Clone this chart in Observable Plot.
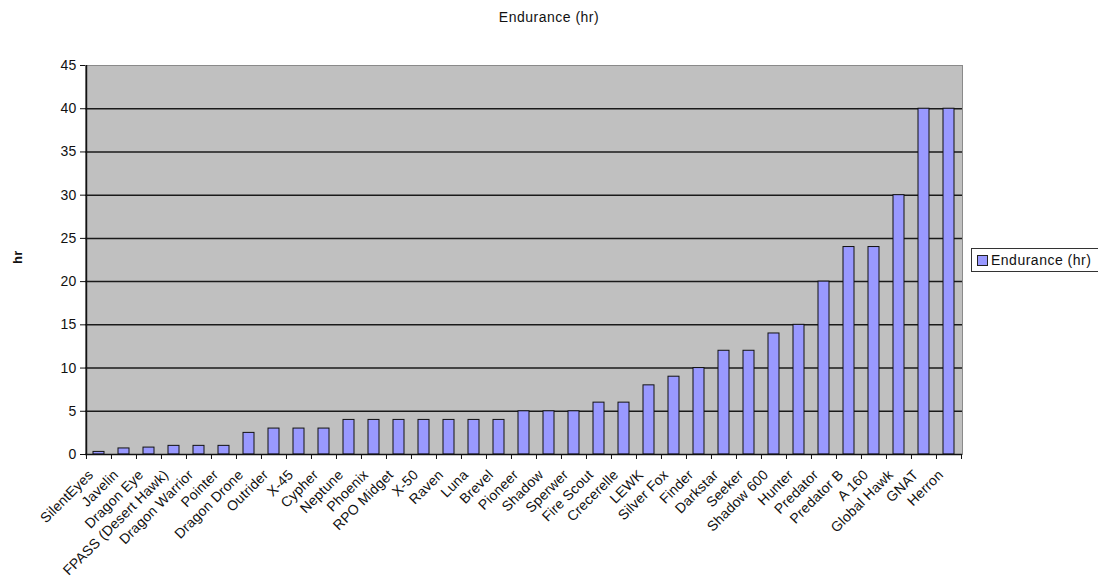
<!DOCTYPE html>
<html>
<head>
<meta charset="utf-8">
<script src="https://cdn.jsdelivr.net/npm/d3@7"></script>
<script src="https://cdn.jsdelivr.net/npm/@observablehq/plot@0.6"></script>
<style>
  body { margin: 0; background: #fff; font-family: "Liberation Sans", Arial, sans-serif; }
  #wrap { position: relative; width: 1098px; height: 578px; overflow: hidden; }
  #title { position: absolute; left: 0; width: 1098px; top: 9px; text-align: center; font-size: 14px; letter-spacing: 0.5px; color: #111; }
  #legend { position: absolute; left: 971px; top: 248px; width: 140px; height: 24px; border: 1px solid #333; box-sizing: border-box; font-size: 14px; letter-spacing: 0.5px; color: #111; }
  #legend .sw { position: absolute; left: 5px; top: 6px; width: 9px; height: 9px; background: #9999ff; border: 1px solid #222; }
  #legend .lt { position: absolute; left: 19px; top: 3px; white-space: nowrap; }
  svg text { letter-spacing: 0.2px; }
</style>
</head>
<body>
<div id="wrap">
  <div id="title">Endurance (hr)</div>
  <div id="chart"></div>
  <div id="legend"><div class="sw"></div><div class="lt">Endurance (hr)</div></div>
</div>
<script>
const names = ["SilentEyes","Javelin","Dragon Eye","FPASS (Desert Hawk)","Dragon Warrior","Pointer","Dragon Drone","Outrider","X-45","Cypher","Neptune","Phoenix","RPO Midget","X-50","Raven","Luna","Brevel","Pioneer","Shadow","Sperwer","Fire Scout","Crecerelle","LEWK","Silver Fox","Finder","Darkstar","Seeker","Shadow 600","Hunter","Predator","Predator B","A 160","Global Hawk","GNAT","Herron"];
const endurance = [0.3,0.7,0.8,1,1,1,2.5,3,3,3,4,4,4,4,4,4,4,5,5,5,6,6,8,9,10,12,12,14,15,20,24,24,30,40,40];
const yTicks = [0,5,10,15,20,25,30,35,40,45];
const gridValues = [5,10,15,20,25,30,35,40];

const data = names.map((n, i) => ({name: n, value: endurance[i]}));

const W = 1098, H = 578, mL = 85, mR = 136, mT = 65, mB = 124;
const step = (W - mL - mR) / names.length;

const chart = Plot.plot({
  width: W,
  height: H,
  marginLeft: mL,
  marginRight: mR,
  marginTop: mT,
  marginBottom: mB,
  style: {fontFamily: "Liberation Sans, Arial, sans-serif", fontSize: "14px", color: "#111", background: "transparent"},
  x: {domain: names, paddingInner: 0.56, paddingOuter: 0.28, label: null},
  y: {domain: [0, 45], label: null},
  marks: [
    Plot.frame({fill: "#c0c0c0", stroke: "#8a8a8a"}),
    Plot.ruleY(gridValues, {stroke: "#1a1a1a", strokeWidth: 1.5}),
    Plot.barY(data, {x: "name", y: "value", fill: "#9999ff", stroke: "#111", strokeWidth: 1}),
    Plot.ruleX([0], {x: () => names[0], dx: -step / 2, y1: 0, y2: 45, stroke: "#111", strokeWidth: 1.5}),
    Plot.ruleY([0], {stroke: "#111", strokeWidth: 1.5}),
    Plot.axisY({ticks: yTicks, tickSize: 5, tickPadding: 4, fontSize: 14, label: null}),
    Plot.axisX({ticks: names, tickSize: 0, tickPadding: 10, tickRotate: -45, fontSize: 14, dx: -8, dy: 8, label: null}),
    Plot.axisX({ticks: names, tickSize: 5, text: null, dx: -step / 2, label: null}),
    Plot.axisX({ticks: [names[names.length - 1]], tickSize: 5, text: null, dx: step / 2, label: null}),
    Plot.text(["hr"], {frameAnchor: "left", dx: -68, dy: 4, rotate: -90, fontWeight: "bold", fontSize: 13})
  ]
});
document.getElementById("chart").appendChild(chart);
</script>
</body>
</html>
